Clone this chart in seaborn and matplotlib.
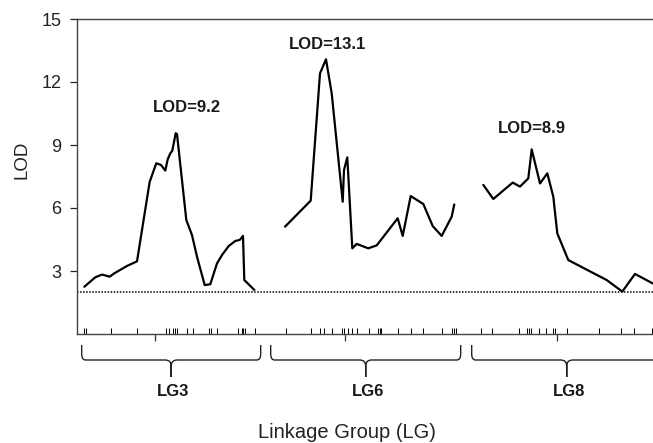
import numpy as np
import pandas as pd
import seaborn as sns
import matplotlib.pyplot as plt
from matplotlib.path import Path
from matplotlib.patches import PathPatch

# LOD profiles, position along the concatenated map (arbitrary map units)
lg3_pos = [7.3, 18.3, 25, 32.7, 37.3, 50, 60, 72.7, 79.3, 84, 88.3, 90.7, 93.3, 95.3,
           98.7, 100, 109.3, 115, 120, 127.7, 133.3, 140, 145, 151.7, 158.3, 162.7,
           166, 167.3, 177.3]
lg3_lod = [2.25, 2.7, 2.83, 2.73, 2.89, 3.24, 3.46, 7.25, 8.13, 8.05, 7.78, 8.32, 8.6,
           8.73, 9.56, 9.52, 5.43, 4.71, 3.68, 2.33, 2.37, 3.36, 3.76, 4.19, 4.43,
           4.48, 4.67, 2.57, 2.1]
lg6_pos = [208, 233.7, 243, 249, 254.7, 265.7, 267, 270.3, 275.3, 279.7, 291.3, 299.7,
           320.7, 325.7, 333.7, 346.3, 355.7, 364.7, 374.7, 377.3]
lg6_lod = [5.11, 6.35, 12.41, 13.08, 11.46, 6.3, 7.81, 8.41, 4.08, 4.29, 4.08, 4.22,
           5.51, 4.67, 6.57, 6.19, 5.14, 4.67, 5.59, 6.17]
lg8_pos = [406.3, 416.3, 435.7, 443, 451.3, 454.7, 463, 470.3, 476.3, 480.3, 491.3,
           529.7, 545.3, 558, 575.7]
lg8_lod = [7.1, 6.43, 7.21, 7.02, 7.41, 8.79, 7.17, 7.65, 6.54, 4.79, 3.52, 2.57,
           2.02, 2.86, 2.41]

# marker positions (rug)
markers = [7, 9, 33.7, 60.3, 89, 91.7, 95.7, 97.7, 99.7, 110.3, 116.3, 132.3, 134.3,
           139.7, 161, 165, 166.3, 168.3, 178.3,
           208.7, 234, 243, 247.3, 254.7, 265.3, 266.7, 270.7, 275.3, 279.7, 292,
           300.7, 302.7, 304, 321.3, 334, 346.3, 364.7, 374.7, 376.7, 378.7,
           404.3, 415, 441.7, 449.7, 451.7, 453.7, 462.3, 469, 475.7, 477.7, 490.3,
           522.3, 544.3, 557, 574.7]
major_ticks = [78, 268, 480]

groups = ["LG3", "LG6", "LG8"]
group_start = [4.7, 193.7, 394.7]
group_end = [183.7, 383.7, 584.7]

peak_text = ["LOD=9.2", "LOD=13.1", "LOD=8.9"]
peak_x = [109.7, 250.8, 455.3]
peak_y = [10.8, 13.8, 9.8]
threshold = 2.0

df = pd.concat([
    pd.DataFrame({"pos": lg3_pos, "lod": lg3_lod, "group": "LG3"}),
    pd.DataFrame({"pos": lg6_pos, "lod": lg6_lod, "group": "LG6"}),
    pd.DataFrame({"pos": lg8_pos, "lod": lg8_lod, "group": "LG8"}),
])

sns.set_style("ticks")
plt.rcParams['font.family'] = ['Liberation Sans', 'DejaVu Sans']

fig = plt.figure(figsize=(6.53, 4.43), dpi=100)
ax = fig.add_axes([77 / 653, 109 / 443, 603 / 653, 315 / 443])

sns.lineplot(data=df, x="pos", y="lod", units="group", estimator=None,
             color="black", linewidth=1.6, ax=ax, legend=False)
ax.axhline(threshold, color="black", linestyle=(0, (1, 1)), linewidth=1.1)
sns.rugplot(x=markers, height=0.02, color="black", linewidth=0.7, ax=ax)

ax.set_xlim(0, 603)
ax.set_ylim(0, 15)
ax.set_yticks([3, 6, 9, 12, 15])
ax.set_xticks(major_ticks)
ax.set_xticklabels([])
ax.tick_params(axis="y", direction="out", length=5, width=0.9, pad=6,
               labelsize=13, colors="#222222")
ax.tick_params(axis="x", direction="out", length=5, width=0.9, colors="#333333")
ax.set_xlabel("")
ax.set_ylabel("")
for s in ax.spines.values():
    s.set_color("#444444")
    s.set_linewidth(1.0)

for t, x, y in zip(peak_text, peak_x, peak_y):
    ax.text(x, y, t, ha="center", va="center", fontsize=12, fontweight="bold",
            color="#1a1a1a")

# braces under each linkage group
ypx = 15 / 315
for g, x0, x1 in zip(groups, group_start, group_end):
    c = (x0 + x1) / 2
    verts, codes = [], []
    for e, d in ((x0, 1), (x1, -1)):
        verts += [(e, -11 * ypx), (e, -20 * ypx), (e, -26 * ypx), (e + 4 * d, -26 * ypx),
                  (c - 6 * d, -26 * ypx), (c, -26 * ypx), (c, -32 * ypx), (c, -43 * ypx)]
        codes += [Path.MOVETO, Path.LINETO, Path.CURVE3, Path.CURVE3,
                  Path.LINETO, Path.CURVE3, Path.CURVE3, Path.LINETO]
    ax.add_patch(PathPatch(Path(verts, codes), facecolor="none", edgecolor="#222222",
                           linewidth=1.0, clip_on=False))
    ax.text(c + 2, -58 * ypx, g, ha="center", va="center", fontsize=12,
            fontweight="bold", color="#1a1a1a")

fig.text(347 / 653, 1 - 432 / 443, "Linkage Group (LG)", ha="center", va="center",
         fontsize=14.5, color="#222222")
fig.text(22 / 653, 1 - 160 / 443, "LOD", ha="center", va="center", rotation=90,
         fontsize=13.5, color="#222222")

fig.savefig("out.png", dpi=100)
